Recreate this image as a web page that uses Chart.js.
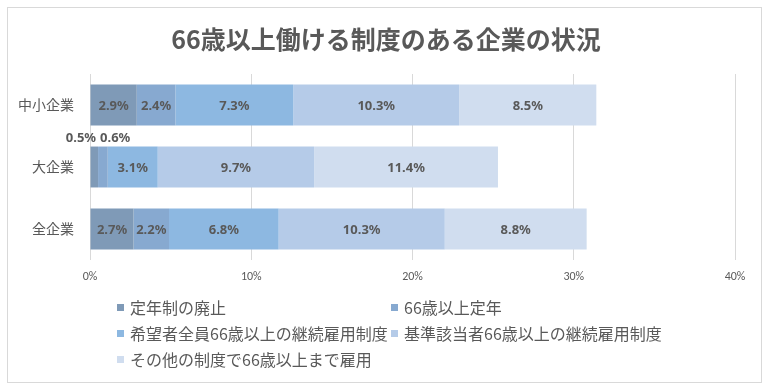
<!DOCTYPE html>
<html>
<head>
<meta charset="utf-8">
<script src="https://cdn.jsdelivr.net/npm/chart.js@4"></script>
<style>
html,body{margin:0;padding:0;background:#fff;}
#wrap{width:770px;height:390px;position:relative;}
</style>
</head>
<body>
<div id="wrap"><canvas id="c" width="770" height="390"></canvas></div>
<script>
const chartTitle = '66歳以上働ける制度のある企業の状況';
const categories = ['中小企業', '大企業', '全企業'];
const seriesNames = [
  '定年制の廃止',
  '66歳以上定年',
  '希望者全員66歳以上の継続雇用制度',
  '基準該当者66歳以上の継続雇用制度',
  'その他の制度で66歳以上まで雇用'
];
const abolished = [2.9, 0.5, 2.7];
const age66Retire = [2.4, 0.6, 2.2];
const allApplicants = [7.3, 3.1, 6.8];
const criteriaBased = [10.3, 9.7, 10.3];
const otherSystems = [8.5, 11.4, 8.8];
const xTickValues = [0, 10, 20, 30, 40];
const seriesColors = ['#7f9ab7', '#87a9d0', '#8db8e1', '#b5cbe8', '#d0ddef'];

const seriesValues = [abolished, age66Retire, allApplicants, criteriaBased, otherSystems];
const TXT = '#595959';
const JP = '"Noto Sans CJK JP", "Noto Sans", sans-serif';

const frameAndLegend = {
  id: 'frameAndLegend',
  afterDraw(chart) {
    const ctx = chart.ctx;
    ctx.save();
    ctx.strokeStyle = '#d9d9d9';
    ctx.lineWidth = 1;
    ctx.strokeRect(7.5, 7.5, 754, 375);
    ctx.fillStyle = TXT;
    ctx.font = 'bold 25px ' + JP;
    ctx.textAlign = 'center';
    ctx.textBaseline = 'middle';
    ctx.fillText(chartTitle, 386, 39);
    ctx.font = '16px ' + JP;
    ctx.textAlign = 'left';
    const colX = [117, 391];
    const rowY = [308, 334, 360];
    chart.data.datasets.forEach((ds, i) => {
      const cx = colX[i % 2], cy = rowY[Math.floor(i / 2)];
      ctx.fillStyle = ds.backgroundColor;
      ctx.fillRect(cx, cy - 4, 7, 7);
      ctx.fillStyle = TXT;
      ctx.fillText(ds.label, cx + 13, cy);
    });
    ctx.restore();
  }
};

const dataLabels = {
  id: 'dataLabels',
  afterDatasetsDraw(chart) {
    const ctx = chart.ctx;
    ctx.save();
    ctx.font = 'bold 13px "Noto Sans", "Liberation Sans", sans-serif';
    ctx.fillStyle = TXT;
    ctx.textBaseline = 'middle';
    chart.data.datasets.forEach((ds, di) => {
      const meta = chart.getDatasetMeta(di);
      meta.data.forEach((el, idx) => {
        const v = ds.data[idx];
        const txt = v.toFixed(1) + '%';
        if (v < 1) {
          const top = el.y - el.height / 2;
          if (di % 2 === 0) {
            ctx.textAlign = 'right';
            ctx.fillText(txt, el.x - 2, top - 8);
          } else {
            ctx.textAlign = 'left';
            ctx.fillText(txt, el.base + 2, top - 8);
          }
        } else {
          ctx.textAlign = 'center';
          ctx.fillText(txt, (el.x + el.base) / 2, el.y + 1);
        }
      });
    });
    ctx.restore();
  }
};

new Chart(document.getElementById('c'), {
  type: 'bar',
  data: {
    labels: categories,
    datasets: seriesNames.map((name, i) => ({
      label: name,
      data: seriesValues[i],
      backgroundColor: seriesColors[i],
      borderWidth: 0,
      barPercentage: 0.66,
      categoryPercentage: 1.0
    }))
  },
  options: {
    indexAxis: 'y',
    responsive: false,
    animation: false,
    devicePixelRatio: 1,
    layout: { padding: { top: 74, right: 35, bottom: 100, left: 0 } },
    plugins: {
      legend: { display: false },
      title: { display: false },
      tooltip: { enabled: false }
    },
    scales: {
      x: {
        stacked: true,
        min: 0,
        max: 40,
        afterBuildTicks(scale) { scale.ticks = xTickValues.map(v => ({ value: v })); },
        afterFit(scale) { scale.height = 30; },
        grid: { color: '#d9d9d9', drawTicks: false, lineWidth: 1 },
        border: { display: false },
        ticks: {
          padding: 10,
          color: TXT,
          font: { family: 'Calibri, "Liberation Sans", "Noto Sans", sans-serif', size: 12 },
          callback: v => v + '%'
        }
      },
      y: {
        stacked: true,
        afterFit(scale) { scale.width = 90; },
        grid: { display: false },
        border: { display: false },
        ticks: {
          padding: 8,
          color: TXT,
          font: { family: JP, size: 14 }
        }
      }
    }
  },
  plugins: [dataLabels, frameAndLegend]
});
</script>
</body>
</html>
